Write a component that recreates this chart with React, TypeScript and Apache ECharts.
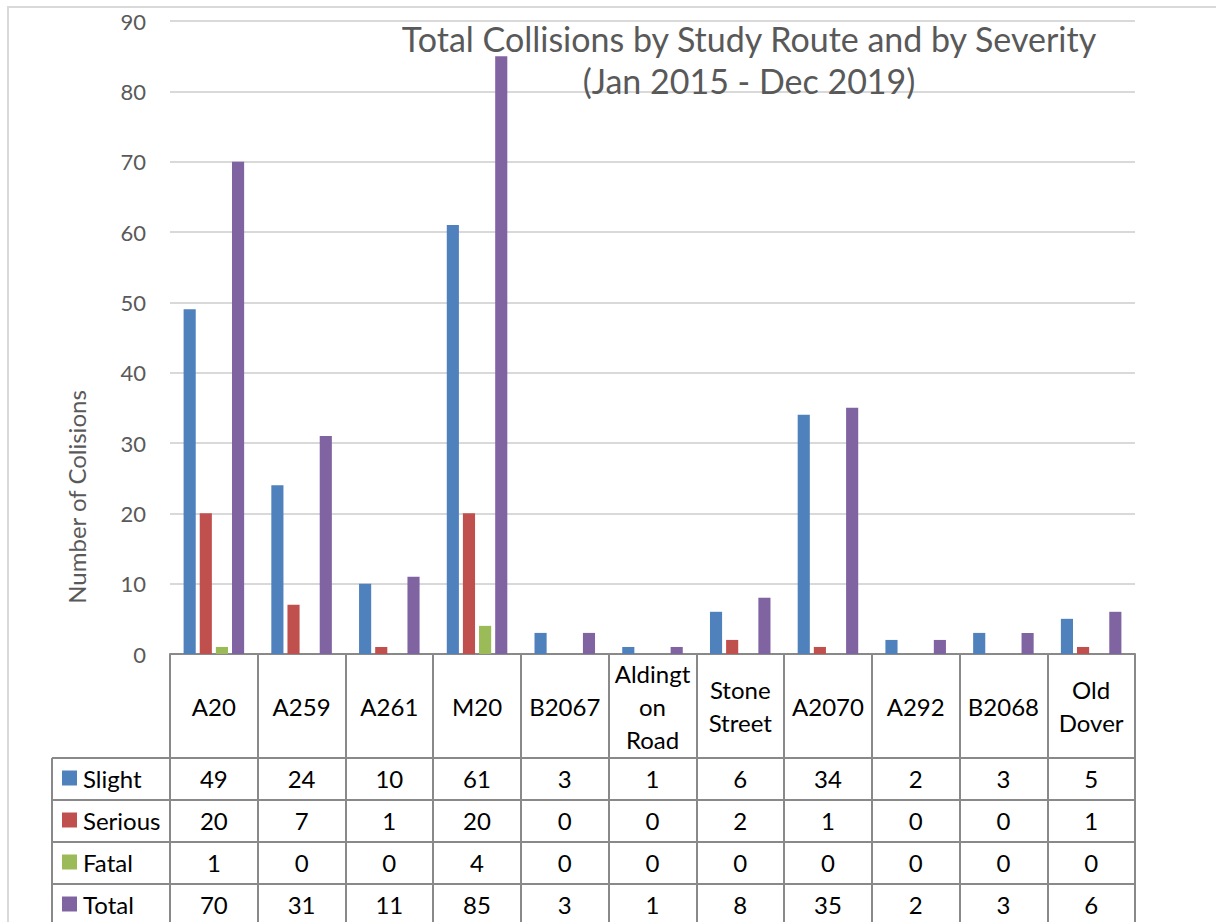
import React, { useEffect, useRef } from "react";
import * as echarts from "echarts";

const routes = ["A20", "A259", "A261", "M20", "B2067", "Aldingt\non\nRoad", "Stone\nStreet", "A2070", "A292", "B2068", "Old\nDover"];
const seriesNames = ["Slight", "Serious", "Fatal", "Total"];
const slight = [49, 24, 10, 61, 3, 1, 6, 34, 2, 3, 5];
const serious = [20, 7, 1, 20, 0, 0, 2, 1, 0, 0, 1];
const fatal = [1, 0, 0, 4, 0, 0, 0, 0, 0, 0, 0];
const total = [70, 31, 11, 85, 3, 1, 8, 35, 2, 3, 6];
const colors = ["#4F81BD", "#C0504D", "#9BBB59", "#8064A2"];
const titleText = "Total Collisions by Study Route and by Severity\n(Jan 2015 - Dec 2019)";
const yAxisTitle = "Number of Colisions";

const FONT = "Lato, 'Liberation Sans', sans-serif";

export default function App() {
  const ref = useRef<HTMLDivElement>(null);
  useEffect(() => {
    if (!ref.current) return;
    const chart = echarts.init(ref.current, null, { renderer: "svg" });
    const values = [slight, serious, fatal, total];
    const gridLeft = 170, gridRight = 81, gridTop = 21, axisY = 654;
    chart.setOption({
      animation: false,
      backgroundColor: "#fff",
      title: {
        text: titleText,
        left: 744,
        top: 12,
        textAlign: "center",
        textStyle: { fontFamily: FONT, fontSize: 34, fontWeight: "normal", color: "#595959", lineHeight: 42 },
      },
      grid: { left: gridLeft, right: gridRight, top: gridTop, bottom: 922 - axisY, containLabel: false },
      xAxis: {
        type: "category",
        data: routes,
        axisLine: { show: true, lineStyle: { color: "#898989", width: 2 } },
        axisTick: { show: true, length: 300, lineStyle: { color: "#898989", width: 2 } },
        axisLabel: {
          interval: 0,
          margin: 52,
          verticalAlign: "middle",
          fontFamily: FONT,
          fontSize: 24,
          color: "#000",
          lineHeight: 33,
        },
      },
      yAxis: {
        type: "value",
        min: 0,
        max: 90,
        interval: 10,
        axisLine: { show: false },
        axisTick: { show: false },
        axisLabel: { margin: 24, fontFamily: FONT, fontSize: 22, color: "#595959" },
        splitLine: { lineStyle: { color: "#D9D9D9", width: 2 } },
      },
      series: seriesNames.map((name, i) => ({
        name,
        type: "bar",
        data: values[i],
        barGap: "33%",
        barCategoryGap: "31%",
        itemStyle: { color: colors[i] },
      })),
    });

    // data table below the axis, aligned with the axis bands
    const rowTops = [758, 800, 842, 884];
    const rowH = 42;
    const tableLeft = 52;
    const tableRight = 1216 - gridRight;
    const g: any[] = [];
    g.push({
      type: "rect",
      shape: { x: 8, y: 7, width: 1400, height: 1200 },
      style: { fill: "none", stroke: "#D9D9D9", lineWidth: 2 },
      z: -10,
      silent: true,
    });
    g.push({
      type: "text",
      x: 76,
      y: 497,
      rotation: Math.PI / 2,
      style: { text: yAxisTitle, font: `24px ${FONT}`, fill: "#595959", align: "center", verticalAlign: "middle" },
    });
    rowTops.forEach((y) => {
      g.push({ type: "line", shape: { x1: tableLeft, y1: y, x2: tableRight, y2: y }, style: { stroke: "#898989", lineWidth: 2 } });
    });
    g.push({ type: "line", shape: { x1: tableLeft, y1: rowTops[0], x2: tableLeft, y2: 940 }, style: { stroke: "#898989", lineWidth: 2 } });
    seriesNames.forEach((name, r) => {
      const cy = rowTops[r] + rowH / 2 - 1;
      g.push({ type: "rect", shape: { x: 62, y: cy - 7.5, width: 15, height: 15 }, style: { fill: colors[r] } });
      g.push({ type: "text", x: 83, y: cy, style: { text: name, font: `24px ${FONT}`, fill: "#000", align: "left", verticalAlign: "middle" } });
      values[r].forEach((v, c) => {
        const px = chart.convertToPixel({ xAxisIndex: 0 }, c) as number;
        g.push({ type: "text", x: px, y: cy, style: { text: String(v), font: `24px ${FONT}`, fill: "#000", align: "center", verticalAlign: "middle" } });
      });
    });
    chart.setOption({ graphic: g });
    return () => chart.dispose();
  }, []);
  return <div ref={ref} style={{ position: "fixed", left: 0, top: 0, width: 1216, height: 922 }} />;
}
